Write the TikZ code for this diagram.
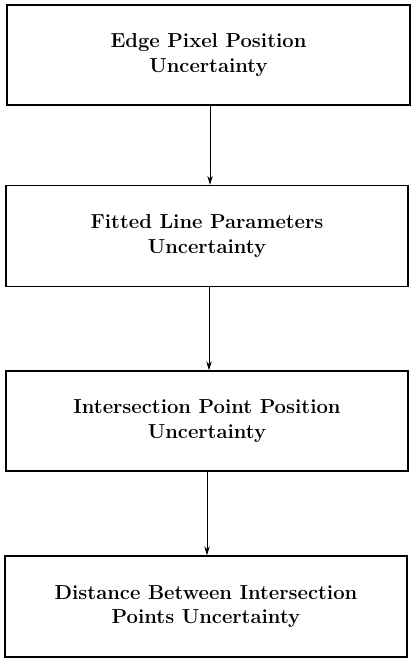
\documentclass[tikz,border=0pt]{standalone}
\usetikzlibrary{arrows.meta}
\begin{document}
\begin{tikzpicture}[x=1bp,y=-1bp,
  stage/.style={draw=black, line width=1.4bp, align=center,
    font=\fontsize{20.3}{24.5}\selectfont\bfseries, inner sep=0pt},
  flow/.style={draw=black, line width=0.9bp,
    -{Stealth[length=9bp,width=5.5bp,inset=3bp]}}]
  \useasboundingbox (0,0) rectangle (410,663);

  % four uncertainty stages, top to bottom
  \node[stage, minimum width=403bp, minimum height=100bp] (pix) at (208.5,55)
    {Edge Pixel Position\\Uncertainty};
  \node[stage, minimum width=402bp, minimum height=101bp] (line) at (207,236)
    {Fitted Line Parameters\\Uncertainty};
  \node[stage, minimum width=402bp, minimum height=100bp] (isect) at (207,421)
    {Intersection Point Position\\Uncertainty};
  \node[stage, minimum width=402bp, minimum height=101bp] (dist) at (206,606.5)
    {Distance Between Intersection\\Points Uncertainty};

  % propagation arrows
  \draw[flow] (pix.south -| 210,0) -- (line.north -| 210,0);
  \draw[flow] (line.south -| 209,0) -- (isect.north -| 209,0);
  \draw[flow] (isect.south -| 207,0) -- (dist.north -| 207,0);
\end{tikzpicture}
\end{document}
